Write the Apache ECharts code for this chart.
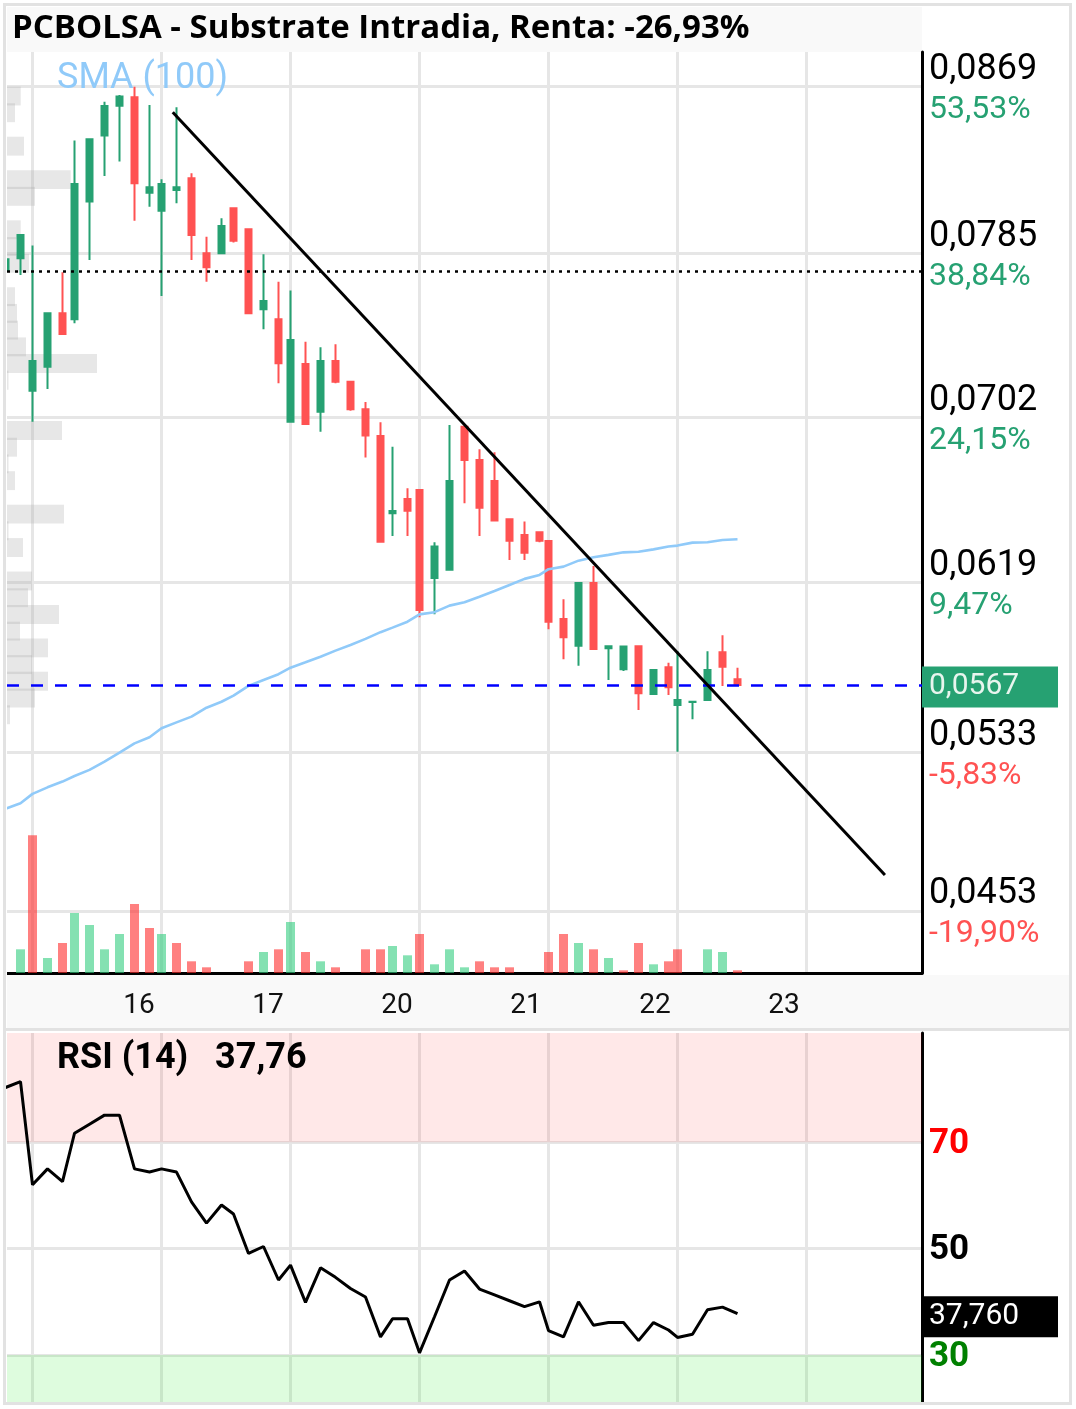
<!DOCTYPE html>
<html><head><meta charset="utf-8">
<script src="https://cdn.jsdelivr.net/npm/echarts@6/dist/echarts.min.js"></script>
<style>html,body{margin:0;padding:0;background:#fff}#c{width:1076px;height:1409px}</style>
</head><body><div id="c"></div>
<script>
// ---------- DATA ----------
const SESSION = 8.6; // compressed trading-day length (hours, 9:00 -> ~17:36)
const dayLabels = ['15', '16', '17', '20', '21', '22', '23'];
// session index of each hourly candle (-1 = session before the 15th)
const candleSession = [-1, -1,
  0, 0, 0, 0, 0, 0, 0, 0, 0,
  1, 1, 1, 1, 1, 1, 1, 1, 1,
  2, 2, 2, 2, 2, 2, 2, 2, 2,
  3, 3, 3, 3, 3, 3, 3, 3, 3,
  4, 4, 4, 4, 4, 4, 4, 4, 4,
  5, 5, 5, 5, 5];
// hours since session open of each candle
const candleHour = [6.8, 7.8,
  0, 1, 2, 2.8, 3.8, 4.8, 5.8, 6.8, 7.8,
  0, 1, 2, 3, 4, 4.8, 5.8, 6.8, 7.8,
  0, 1, 2, 3, 4, 5, 6, 6.8, 7.8,
  0, 1, 2, 3, 4, 5, 6, 7, 8,
  0, 1, 2, 3, 4, 5, 6, 7, 8,
  0, 1, 2, 3, 4];
const opens = [0.07761, 0.07824,
  0.07156, 0.07277, 0.07546, 0.07516, 0.08110, 0.08443, 0.08594, 0.08637, 0.08155,
  0.08064, 0.08169, 0.08228, 0.07849, 0.07849, 0.08076, 0.07970, 0.07567, 0.07516,
  0.06999, 0.07291, 0.07050, 0.07306, 0.07201, 0.07062, 0.06927, 0.06537, 0.06609,
  0.06655, 0.06211, 0.06252, 0.06974, 0.06806, 0.06700, 0.06507, 0.06428, 0.06441,
  0.06397, 0.06004, 0.05869, 0.06185, 0.05856, 0.05750, 0.05866, 0.05625, 0.05760,
  0.05570, 0.05585, 0.05595, 0.05836, 0.05699];
const highs = [0.07819, 0.07942,
  0.07888, 0.07546, 0.07753, 0.08418, 0.08425, 0.08614, 0.08648, 0.08690, 0.08598,
  0.08223, 0.08586, 0.08253, 0.07933, 0.08026, 0.08076, 0.07970, 0.07844, 0.07706,
  0.07661, 0.07403, 0.07375, 0.07390, 0.07201, 0.07099, 0.06996, 0.06873, 0.06663,
  0.06655, 0.06391, 0.06983, 0.06974, 0.06860, 0.06845, 0.06512, 0.06495, 0.06441,
  0.06397, 0.06103, 0.06185, 0.06271, 0.05866, 0.05866, 0.05866, 0.05746, 0.05783,
  0.05841, 0.05586, 0.05841, 0.05921, 0.05758];
const lows = [0.07761, 0.07740,
  0.06999, 0.07164, 0.07437, 0.07496, 0.07815, 0.08239, 0.08312, 0.08014, 0.08084,
  0.07634, 0.08102, 0.07815, 0.07706, 0.07844, 0.07903, 0.07541, 0.07466, 0.07193,
  0.06998, 0.06983, 0.06949, 0.07193, 0.07055, 0.06818, 0.06389, 0.06423, 0.06423,
  0.06012, 0.06027, 0.06252, 0.06588, 0.06423, 0.06495, 0.06301, 0.06301, 0.06391,
  0.05952, 0.05800, 0.05768, 0.05847, 0.05696, 0.05741, 0.05544, 0.05620, 0.05620,
  0.05334, 0.05498, 0.05590, 0.05666, 0.05666];
const closes = [0.07819, 0.07942,
  0.07306, 0.07546, 0.07442, 0.08199, 0.08425, 0.08593, 0.08640, 0.08203, 0.08182,
  0.08199, 0.08182, 0.07942, 0.07779, 0.07987, 0.07913, 0.07546, 0.07609, 0.07294,
  0.07412, 0.06988, 0.07306, 0.07201, 0.07062, 0.06929, 0.06394, 0.06549, 0.06550,
  0.06049, 0.06369, 0.06700, 0.06806, 0.06565, 0.06500, 0.06399, 0.06338, 0.06399,
  0.05990, 0.05911, 0.06185, 0.05852, 0.05866, 0.05865, 0.05629, 0.05746, 0.05659,
  0.05595, 0.05586, 0.05746, 0.05763, 0.05671];
// volume (thousand shares); null = no trades
const volumes = [null, 237,
  1377, 150, 300, 600, 480, 237, 390, 690, 450,
  390, 300, 117, 57, null, null, 117, 210, 237,
  510, 210, 117, 57, null, 237, 237, 270, 177,
  390, 87, 237, 57, 117, 57, 57, null, null,
  210, 390, 300, 237, 150, 27, 300, 87, 117,
  237, null, 237, 210, 27];
const sma100 = [0.05046, 0.05074,
  0.05121, 0.05154, 0.05183, 0.05211, 0.05242, 0.05284, 0.05329, 0.05376, 0.05407,
  0.05452, 0.05482, 0.05511, 0.05556, 0.05586, 0.05617, 0.05666, 0.05696, 0.05725,
  0.05758, 0.05785, 0.05813, 0.05844, 0.05872, 0.05903, 0.05937, 0.05960, 0.05990,
  0.06027, 0.06038, 0.06071, 0.06088, 0.06116, 0.06145, 0.06175, 0.06206, 0.06226,
  0.06255, 0.06268, 0.06298, 0.06315, 0.06327, 0.06340, 0.06343, 0.06355, 0.06369,
  0.06374, 0.06389, 0.06391, 0.06402, 0.06406];
const rsi14 = [80.3, 81.4,
  62.0, 65.0, 62.6, 71.7, 73.4, 75.1, 75.1, 65.0, 64.4,
  65.0, 64.4, 58.8, 54.8, 58.2, 56.5, 49.1, 50.4, 44.1,
  46.9, 39.9, 46.4, 44.6, 42.5, 40.9, 33.4, 36.8, 36.8,
  30.4, 37.2, 44.1, 45.8, 42.4, 41.3, 40.2, 39.1, 40.0,
  34.6, 33.4, 40.0, 35.6, 36.1, 36.1, 32.7, 36.1, 34.7,
  33.3, 33.9, 38.5, 39.0, 37.76];
const priceTicks = [0.0869, 0.0785, 0.0702, 0.0619, 0.0533, 0.0453];
const pctLabels = ['53,53%', '38,84%', '24,15%', '9,47%', '-5,83%', '-19,90%'];
const rsiTicks = [70, 50, 30];
const refPrice = 0.0776;            // start-of-period price (dotted line)
const trendLine = [[9.35, 0.08561], [56.83, 0.04712]];
// volume-at-price profile (thousand shares per price bin, top bin first)
const PROFILE_TOP = 0.08643, PROFILE_STEP = 0.000844;
const profileVolumes = [137, 80, 0, 170, 0, 637, 280, 0, 137, 90, 220, 0, 80, 100, 110, 190, 900, 15, 0, 0,
  550, 100, 15, 80, 0, 570, 15, 160, 0, 250, 210, 520, 130, 410, 250, 410, 280, 30];
const titleText = 'PCBOLSA - Substrate Intradia, Renta: -26,93%';

// ---------- CHART ----------
const X_MIN = -1.7, X_MAX = 59.3;
const P_MIN = 0.04217, P_MAX = 0.08865;
const R_MIN = 21.16, R_MAX = 90.55;
const VOL_MAX = 9210, PROF_MAX = 9150;
const GREEN = '#26a172', RED = '#ff5252';
const GRID_C = '#e6e6e6';

const xs = candleHour.map((h, i) => candleSession[i] * SESSION + h);
const dayStarts = dayLabels.map((d, i) => i * SESSION);
const labelPos = dayStarts.slice(1).map(v => v - 1.5);
const n = closes.length;
const lastClose = closes[n - 1];
const lastRsi = rsi14[n - 1];
const comma = (v, d) => v.toFixed(d).replace('.', ',');

const candleData = xs.map((x, i) => [x, opens[i], closes[i], lows[i], highs[i]]);
const volData = [];
xs.forEach((x, i) => {
  if (volumes[i] == null) return;
  const up = i === 0 ? true : closes[i] >= closes[i - 1];
  volData.push({ value: [x, volumes[i]], itemStyle: { color: up ? 'rgba(50,205,127,0.6)' : 'rgba(255,43,43,0.6)' } });
});
const profData = profileVolumes.map((v, k) => [v, PROFILE_TOP - k * PROFILE_STEP]).filter(d => d[0] > 0);

const chart = echarts.init(document.getElementById('c'), null, { renderer: 'canvas' });
chart.setOption({
  animation: false,
  backgroundColor: '#fff',
  textStyle: { fontFamily: 'Roboto' },
  title: [
    { text: titleText, left: 7, top: 7, textStyle: { fontFamily: 'Open Sans', fontWeight: 'bold', fontSize: 33, color: '#000' } },
    { text: 'SMA (100)', left: 52, top: 56, textStyle: { fontFamily: 'Roboto', fontWeight: 'normal', fontSize: 36, color: '#90caf9' } },
    { text: 'RSI (14)   ' + comma(lastRsi, 2), left: 52, top: 1036, textStyle: { fontFamily: 'Roboto', fontWeight: 'bold', fontSize: 36, color: '#000' } }
  ],
  graphic: [
    { type: 'rect', z: -10, shape: { x: 7, y: 7, width: 915, height: 45 }, style: { fill: '#f9f9f9' } },
    { type: 'rect', z: -10, shape: { x: 7, y: 975, width: 1062, height: 53 }, style: { fill: '#f9f9f9' } },
    { type: 'rect', z: 40, shape: { x: 0, y: 50, width: 7, height: 925 }, style: { fill: '#fff' } },
    { type: 'line', z: 50, shape: { x1: 4, y1: 1029.5, x2: 1071, y2: 1029.5 }, style: { stroke: '#e2e2e2', lineWidth: 3 } },
    { type: 'rect', z: 50, shape: { x: 4.5, y: 4.5, width: 1066, height: 1399 }, style: { fill: 'none', stroke: '#e2e2e2', lineWidth: 3 } }
  ],
  grid: [
    { left: 7, right: 154, top: 52, height: 921 },
    { left: 7, right: 154, top: 1033, height: 369 }
  ],
  xAxis: [
    { type: 'value', gridIndex: 0, min: X_MIN, max: X_MAX,
      axisLine: { show: true, onZero: false, lineStyle: { color: '#000', width: 3 } },
      axisTick: { show: false, customValues: dayStarts },
      splitLine: { show: true, lineStyle: { color: GRID_C, width: 3 } },
      axisLabel: { customValues: labelPos, formatter: v => dayLabels[Math.round((v + 1.5) / SESSION)], fontSize: 28, color: '#111', margin: 19 } },
    { type: 'value', gridIndex: 0, min: 0, max: PROF_MAX, show: false },
    { type: 'value', gridIndex: 1, min: X_MIN, max: X_MAX,
      axisLine: { show: false, onZero: false }, axisLabel: { show: false },
      axisTick: { show: false, customValues: dayStarts },
      splitLine: { show: true, lineStyle: { color: GRID_C, width: 3 } } }
  ],
  yAxis: [
    { type: 'value', gridIndex: 0, position: 'right', min: P_MIN, max: P_MAX,
      axisLine: { show: true, onZero: false, lineStyle: { color: '#000', width: 3 } },
      axisTick: { show: false, customValues: priceTicks },
      splitLine: { show: true, lineStyle: { color: GRID_C, width: 3 } },
      axisLabel: { customValues: priceTicks, margin: 7, padding: [7, 0, 0, 0],
        formatter: v => {
          let i = 0, best = 1;
          priceTicks.forEach((t, k) => { if (Math.abs(t - v) < best) { best = Math.abs(t - v); i = k; } });
          const neg = pctLabels[i].charAt(0) === '-';
          return '{p|' + comma(priceTicks[i], 4) + '}\n{' + (neg ? 'n' : 'g') + '|' + pctLabels[i] + '}';
        },
        rich: {
          p: { fontSize: 36, color: '#000', lineHeight: 40, fontFamily: 'Roboto' },
          g: { fontSize: 32, color: GREEN, lineHeight: 40, fontFamily: 'Roboto' },
          n: { fontSize: 32, color: RED, lineHeight: 40, fontFamily: 'Roboto' }
        } } },
    { type: 'value', gridIndex: 0, min: 0, max: VOL_MAX, show: false },
    { type: 'value', gridIndex: 1, position: 'right', min: R_MIN, max: R_MAX,
      axisLine: { show: true, onZero: false, lineStyle: { color: '#000', width: 3 } },
      axisTick: { show: false, customValues: rsiTicks },
      splitLine: { show: true, lineStyle: { color: GRID_C, width: 3 } },
      axisLabel: { customValues: rsiTicks, margin: 7, fontSize: 35, fontWeight: 'bold', padding: [4, 0, 0, 0],
        formatter: v => '{' + (v > 60 ? 'r' : v < 40 ? 'g' : 'k') + '|' + Math.round(v) + '}',
        rich: {
          r: { fontSize: 35, fontWeight: 'bold', color: '#ff0000' },
          k: { fontSize: 35, fontWeight: 'bold', color: '#000' },
          g: { fontSize: 35, fontWeight: 'bold', color: '#008000' }
        } } }
  ],
  series: [
    { type: 'custom', name: 'profile', xAxisIndex: 1, yAxisIndex: 0, z: 1, silent: true,
      data: profData,
      renderItem: (params, api) => {
        const v = api.value(0), c = api.value(1);
        const p0 = api.coord([0, c + PROFILE_STEP * 0.565]);
        const p1 = api.coord([v, c - PROFILE_STEP * 0.565]);
        return { type: 'rect', shape: { x: p0[0], y: p0[1], width: p1[0] - p0[0], height: p1[1] - p0[1] },
          style: { fill: 'rgba(170,170,170,0.28)' } };
      } },
    { type: 'bar', name: 'volume', xAxisIndex: 0, yAxisIndex: 1, barWidth: 9, data: volData, z: 2 },
    { type: 'candlestick', name: 'price', xAxisIndex: 0, yAxisIndex: 0, barWidth: 7, z: 3,
      data: candleData,
      itemStyle: { color: GREEN, color0: RED, borderColor: GREEN, borderColor0: RED, borderWidth: 2 },
      markLine: { silent: true, symbol: ['none', 'none'], animation: false, precision: 6,
        data: [
          { yAxis: refPrice, lineStyle: { type: [3, 5], color: '#000', width: 2.5 }, label: { show: false } },
          { yAxis: lastClose, lineStyle: { type: [12, 12], color: '#0000ff', width: 2.5 },
            label: { show: true, position: 'end', distance: 0, formatter: comma(lastClose, 4),
              backgroundColor: GREEN, color: '#e8f5ee', fontSize: 30, fontFamily: 'Roboto',
              padding: [6, 8, 5, 7], width: 121, offset: [0, 2] } }
        ] } },
    { type: 'line', name: 'SMA (100)', xAxisIndex: 0, yAxisIndex: 0, z: 4, showSymbol: false, silent: true,
      data: xs.map((x, i) => [x, sma100[i]]), lineStyle: { color: '#90caf9', width: 2.6 } },
    { type: 'line', name: 'trend', xAxisIndex: 0, yAxisIndex: 0, z: 5, showSymbol: false, silent: true,
      data: trendLine, lineStyle: { color: '#000', width: 3 } },
    { type: 'line', name: 'RSI', xAxisIndex: 2, yAxisIndex: 2, z: 4, showSymbol: false, silent: true,
      data: xs.map((x, i) => [x, rsi14[i]]), lineStyle: { color: '#000', width: 3 },
      markArea: { silent: true, data: [
        [{ yAxis: 70, itemStyle: { color: 'rgba(255,0,0,0.09)' } }, { yAxis: R_MAX }],
        [{ yAxis: R_MIN, itemStyle: { color: 'rgba(0,230,0,0.13)' } }, { yAxis: 30 }]
      ] },
      markLine: { silent: true, symbol: ['none', 'none'], precision: 6,
        data: [{ yAxis: lastRsi, lineStyle: { color: 'rgba(0,0,0,0)', width: 0 },
          label: { show: true, position: 'end', distance: 0, formatter: comma(lastRsi, 3),
            backgroundColor: '#000', color: '#fff', fontSize: 30, fontFamily: 'Roboto',
            padding: [6, 8, 5, 7], width: 121, offset: [0, 3] } }] } }
  ]
});
</script></body></html>
